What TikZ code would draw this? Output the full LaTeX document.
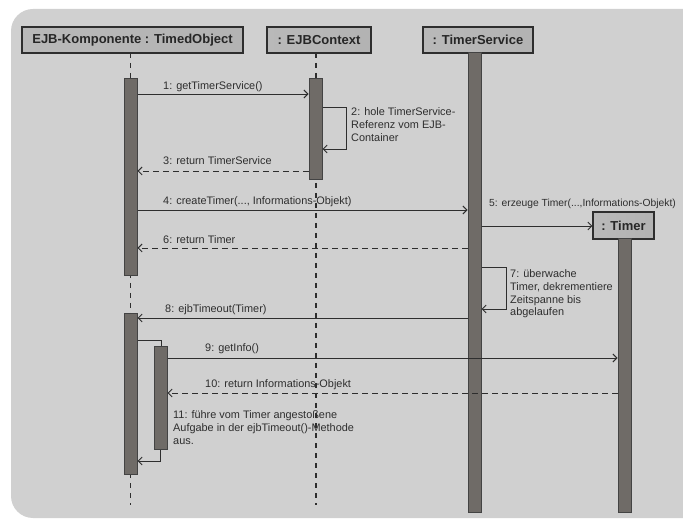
\documentclass[tikz,border=0pt]{standalone}
\usepackage{fontspec}
\setmainfont{Liberation Sans}
\usetikzlibrary{arrows.meta}
\definecolor{bg}{HTML}{D0D0D0}
\definecolor{barfill}{HTML}{6F6B67}
\definecolor{ink}{HTML}{2E2E2E}
\tikzset{
  hdr/.style={draw=ink, line width=1.1pt, left color=gray!55, middle color=white, right color=gray!60,
    font=\fontsize{13}{15}\selectfont\bfseries, minimum height=26pt, inner sep=0pt, text=black!85},
  bar/.style={draw=ink!90, fill=barfill, line width=1pt, minimum width=13pt, inner sep=0pt},
  life/.style={draw=ink, line width=1.1pt, dash pattern=on 5pt off 5pt},
  msg/.style={draw=ink, line width=0.9pt, -{Straight Barb[length=4pt,width=8pt]}},
  ret/.style={draw=ink, line width=0.9pt, dash pattern=on 6pt off 4pt, -{Straight Barb[length=4pt,width=8pt]}},
  lbl/.style={font=\fontsize{10.9}{12.8}\selectfont, text=ink, inner sep=0pt, align=left}
}
\begin{document}
\begin{tikzpicture}[x=1pt,y=-1pt]
\useasboundingbox (0,0) rectangle (683,521);
\clip (0,0) rectangle (683,521);
\fill[bg, rounded corners=22pt] (11,9) rectangle (706,518);

% headers
\node[hdr, minimum width=221pt] (h1) at (132.5,40) {EJB-Komponente : TimedObject};
\node[hdr, minimum width=104pt] (h2) at (319,40) {: EJBContext};
\node[hdr, minimum width=110pt] (h3) at (478,40) {: TimerService};
\node[hdr, minimum width=61pt, minimum height=27pt] (h4) at (623.5,225.5) {: Timer};

% lifeline end points
\coordinate (e1) at (130.5,505);
\coordinate (e2) at (316,505);
\draw[life] (130.5,53) -- (e1);
\draw[life] (316,53) -- (e2);

% activation bars
\node[bar, minimum height=197pt] (A1) at (130.5,177.5) {};
\node[bar, minimum height=160pt] (A2) at (130.5,394) {};
\node[bar, minimum height=101pt] (B1) at (315.5,129.5) {};
\node[bar, minimum height=459pt] (C1) at (474.5,282.5) {};
\node[bar, minimum height=273pt] (D1) at (624.5,375.5) {};

% 1
\draw[msg] (A1.east |- 0,94) -- (B1.west |- 0,94);
\node[lbl, anchor=base west] (t1) at (163,90) {1: getTimerService()};
% 2 self
\draw[msg] (B1.east |- 0,107) -- (346,107) -- (346,149) -- (B1.east |- 0,149);
\node[lbl, anchor=north west] (t2) at (351,107.5) {2: hole TimerService-\\Referenz vom EJB-\\Container};
% 3
\draw[ret] (B1.west |- 0,171) -- (A1.east |- 0,171);
\node[lbl, anchor=base west] (t3) at (163,165) {3: return TimerService};
% 4
\draw[msg] (A1.east |- 0,210) -- (C1.west |- 0,210);
\node[lbl, anchor=base west] (t4) at (163,205) {4: createTimer(..., Informations-Objekt)};
% 5
\draw[msg] (C1.east |- 0,226) -- (h4.west |- 0,226);
\node[lbl, anchor=base west, font=\fontsize{10.3}{12}\selectfont] (t5) at (489,207) {5: erzeuge Timer(...,Informations-Objekt)};
% 6
\draw[ret] (C1.west |- 0,248) -- (A1.east |- 0,248);
\node[lbl, anchor=base west] (t6) at (163,244) {6: return Timer};
% 7 self
\draw[msg] (C1.east |- 0,267) -- (506,267) -- (506,309) -- (C1.east |- 0,309);
\node[lbl, anchor=north west] (t7) at (510,269.5) {7: überwache\\Timer, dekrementiere\\Zeitspanne bis\\abgelaufen};
% 8
\draw[msg] (C1.west |- 0,318) -- (A2.east |- 0,318);
\node[lbl, anchor=base west] (t8) at (165,313) {8: ejbTimeout(Timer)};
% nested activation
\draw[draw=ink, line width=0.9pt] (A2.east |- 0,340) -- (161,340) -- (161,347);
\node[bar, minimum height=102pt] (A3) at (160.5,398) {};
% 9
\draw[msg] (A3.east |- 0,358) -- (D1.west |- 0,358);
\node[lbl, anchor=base west] (t9) at (205,352) {9: getInfo()};
% 10
\draw[ret] (D1.west |- 0,393) -- (A3.east |- 0,393);
\node[lbl, anchor=base west] (t10) at (205,388) {10: return Informations-Objekt};
% 11
\draw[msg] (A3.south) -- (A3.south |- 0,461) -- (A2.east |- 0,461);
\node[lbl, anchor=north west] (t11) at (173,410.5) {11: führe vom Timer angestoßene\\Aufgabe in der ejbTimeout()-Methode\\aus.};
\end{tikzpicture}
\end{document}
